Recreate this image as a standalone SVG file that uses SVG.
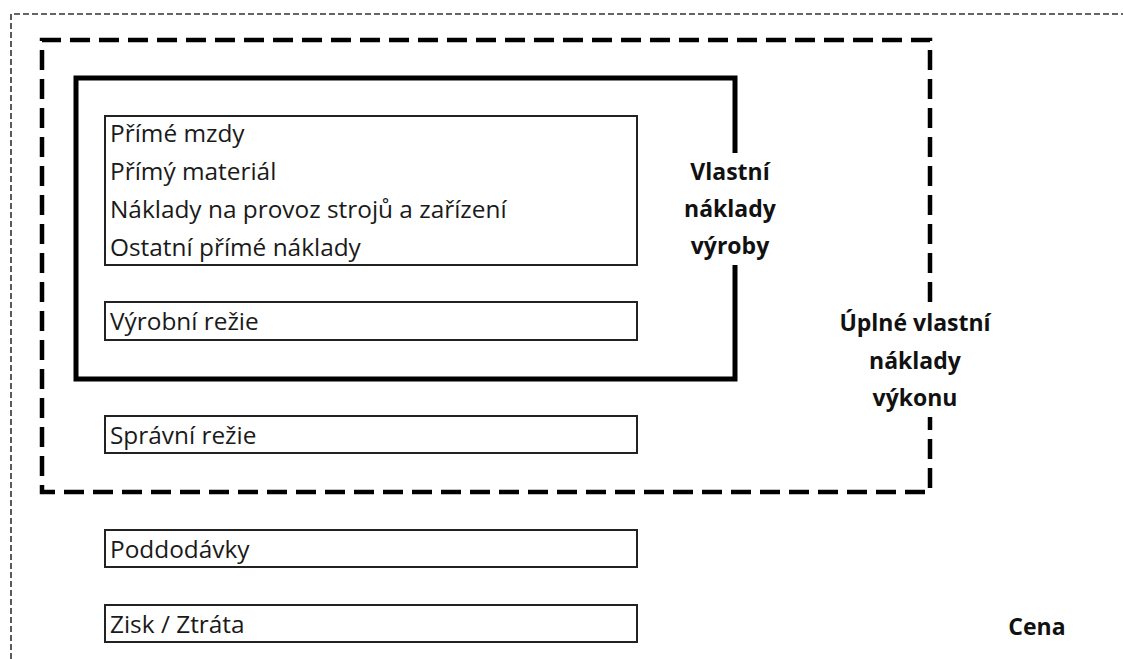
<svg xmlns="http://www.w3.org/2000/svg" width="1123" height="659" viewBox="0 0 1123 659">
<style>
  .item { fill: #fff; stroke: #222; stroke-width: 2; }
  .t { font-family: "Open Sans", "Noto Sans", "DejaVu Sans", sans-serif; font-size: 24.4px; fill: #1a1a1a; }
  .b { font-family: "Open Sans", "Noto Sans", "DejaVu Sans", sans-serif; font-size: 23px; font-weight: bold; fill: #111; text-anchor: middle; }
</style>
<rect width="1123" height="659" fill="#fff"/>
<g id="cena-frame">
  <path d="M11,659 V14 H1123" fill="none" stroke="#333" stroke-width="1.6" stroke-dasharray="6 3"/>
  <text class="b" x="1037" y="635">Cena</text>
</g>
<g id="uplne-naklady">
  <path d="M930,302 V40 H42 V492 H930 V417" fill="none" stroke="#000" stroke-width="4.5" stroke-dasharray="20 9"/>
  <text class="b" x="915" y="331">Úplné vlastní</text>
  <text class="b" x="915" y="369">náklady</text>
  <text class="b" x="915" y="406">výkonu</text>
</g>
<g id="vlastni-naklady">
  <path d="M735,153 V78 H76 V379 H735 V265" fill="none" stroke="#000" stroke-width="5"/>
  <text class="b" x="730" y="180">Vlastní</text>
  <text class="b" x="730" y="217">náklady</text>
  <text class="b" x="730" y="254">výroby</text>
</g>
<g id="prime-naklady">
  <rect class="item" x="105" y="116" width="532" height="149"/>
  <text class="t" x="110" y="142">Přímé mzdy</text>
  <text class="t" x="110" y="180">Přímý materiál</text>
  <text class="t" x="110" y="218">Náklady na provoz strojů a zařízení</text>
  <text class="t" x="110" y="256">Ostatní přímé náklady</text>
</g>
<g id="vyrobni-rezie">
  <rect class="item" x="105" y="302" width="532" height="38"/>
  <text class="t" x="110" y="330">Výrobní režie</text>
</g>
<g id="spravni-rezie">
  <rect class="item" x="105" y="416" width="532" height="37"/>
  <text class="t" x="110" y="444">Správní režie</text>
</g>
<g id="poddodavky">
  <rect class="item" x="105" y="530" width="532" height="37"/>
  <text class="t" x="110" y="558">Poddodávky</text>
</g>
<g id="zisk-ztrata">
  <rect class="item" x="105" y="605" width="532" height="37"/>
  <text class="t" x="110" y="633">Zisk / Ztráta</text>
</g>
</svg>
